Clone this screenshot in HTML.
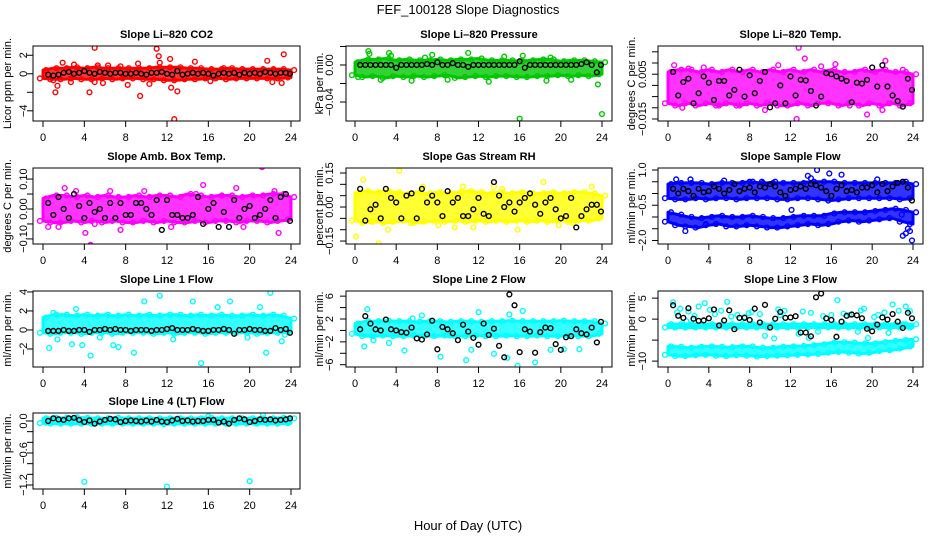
<!DOCTYPE html>
<html><head><meta charset="utf-8">
<style>
html,body{margin:0;padding:0;background:#fff;}
svg{display:block;font-family:"Liberation Sans",Arial,sans-serif;}
</style></head>
<body>
<svg id="chart" width="936" height="540" viewBox="0 0 936 540" xmlns="http://www.w3.org/2000/svg">
<rect x="0" y="0" width="936" height="540" fill="#fff"/>
<text x="468" y="14" text-anchor="middle" font-size="13">FEF_100128  Slope Diagnostics</text>
<text x="468" y="530" text-anchor="middle" font-size="13">Hour of Day (UTC)</text>
</svg>
<script>
const xTicks = [0,4,8,12,16,20,24];
const blkHours = [0.5,1,1.5,2,2.5,3,3.5,4,4.5,5,5.5,6,6.5,7,7.5,8,8.5,9,9.5,10,10.5,11,11.5,12,12.5,13,13.5,14,14.5,15,15.5,16,16.5,17,17.5,18,18.5,19,19.5,20,20.5,21,21.5,22,22.5,23,23.5,23.9];
const bandHours = [0,1,2,3,4,5,6,7,8,9,10,11,12,13,14,15,16,17,18,19,20,21,22,23,24];

// Panel 1: CO2
const p1Lo = [-0.5,-0.6,-0.6,-0.5,-0.6,-0.6,-0.5,-0.6,-0.5,-0.5,-0.6,-0.6,-0.7,-0.7,-0.6,-0.6,-0.5,-0.5,-0.6,-0.5,-0.5,-0.5,-0.5,-0.5,-0.4];
const p1Hi = [0.4,0.6,0.6,0.7,0.6,0.7,0.6,0.6,0.6,0.6,0.6,0.7,0.7,0.7,0.6,0.6,0.5,0.5,0.6,0.5,0.5,0.5,0.5,0.5,0.4];
const p1OutX = [5,11,11.2,12.3,14.7,21.7,23.3,1.2,1.4,4.5,9.4,12.7,12.4,13,8.2,10.3,16.2,22.2,23.1,1,2.7,5.3,6.3,9.2,11.3,1.9,3,7.5,17.5,5,5.8];
const p1OutY = [2.8,2.7,1.9,1.6,1.3,1.4,2.1,-2,-1.3,-2,-2.4,-4.9,-1.5,-1.9,-1.2,-1.1,-0.8,-0.9,-1,-0.7,-0.9,0.9,0.9,1.1,1.2,1.2,1.0,0.8,0.6,-0.9,-1];
const p1Blk = [-0.1,-0.2,-0.1,0.1,0.2,0.0,0.1,0.3,0.1,0.0,0.2,0.1,0.0,0.1,0.1,0.0,0.0,0.1,0.0,-0.1,0.1,0.1,0.2,0.0,-0.1,0.3,-0.1,0.0,0.1,0.0,0.1,0.0,-0.2,0.0,0.1,0.0,0.1,-0.1,0.1,0.0,0.1,0.0,0.2,0.1,0.0,0.1,0.1,0.0];

// Panel 2: Pressure
const p2Lo = [-0.011,-0.013,-0.012,-0.014,-0.012,-0.013,-0.012,-0.013,-0.012,-0.011,-0.014,-0.013,-0.012,-0.013,-0.012,-0.012,-0.013,-0.013,-0.012,-0.012,-0.011,-0.012,-0.011,-0.012,-0.010];
const p2Hi = [0.003,0.006,0.006,0.007,0.005,0.006,0.005,0.005,0.006,0.005,0.006,0.006,0.007,0.005,0.005,0.005,0.004,0.005,0.006,0.006,0.004,0.005,0.005,0.004,0.003];
const p2OutX = [1.3,1.4,3.3,3.5,7.5,11,16.3,0.3,23.6,16,24,2.5,5.5,9,13,18.6,21,6.8,14.5,19];
const p2OutY = [0.015,0.012,0.013,0.010,0.011,0.013,0.010,-0.013,-0.021,-0.058,-0.053,-0.016,-0.017,-0.016,-0.018,-0.017,-0.016,0.008,0.009,0.008];
const p2Blk = [0,0,0,0,0,0,0,-0.003,0,0,0,0,0,0.001,0,0.003,0,0,0.002,0,0,-0.002,0,0,0,0,0,0,0,0,0,0.004,-0.003,0,0,0,0,0,0,0,0,0,0,0.001,0.003,0,-0.008,0];

// Panel 3: Li-820 Temp
const p3Lo = [-0.008,-0.009,-0.008,-0.009,-0.008,-0.009,-0.008,-0.009,-0.008,-0.009,-0.008,-0.009,-0.009,-0.008,-0.009,-0.008,-0.008,-0.009,-0.008,-0.009,-0.008,-0.009,-0.008,-0.009,-0.008];
const p3Hi = [0.006,0.007,0.007,0.006,0.007,0.006,0.007,0.006,0.007,0.006,0.007,0.006,0.007,0.006,0.007,0.006,0.007,0.006,0.006,0.007,0.006,0.007,0.006,0.006,0.005];
const p3OutX = [12.8,13.4,21.3,0.6,10.8,12.6,19.5,9.5,1.4,21,3.5,7,15,17.8,5,2,16.4,23];
const p3OutY = [0.0168,0.012,0.011,0.009,0.009,-0.015,-0.013,-0.011,-0.010,-0.011,0.008,-0.009,0.0085,-0.009,-0.009,0.0075,0.0095,0.007];
const p3Blk = [0.006,-0.0045,0.0015,0.003,-0.008,-0.0035,0.004,0.0012,-0.0065,0.002,0.002,-0.0045,-0.002,0.007,-0.005,0.0045,-0.0035,0.002,0.006,-0.0098,-0.008,0.0,-0.008,0.004,-0.0045,0.0025,0.0022,-0.0025,-0.009,-0.005,0.0055,0.005,0.004,0.003,0.002,-0.0075,0.0012,0.0008,0.0025,0.008,-0.0005,0.009,-0.0005,-0.0045,-0.007,-0.0095,0.003,-0.002];

// Panel 4: Amb Box Temp
const p4Lo = [-0.04,-0.045,-0.045,-0.04,-0.045,-0.04,-0.045,-0.04,-0.045,-0.045,-0.04,-0.045,-0.04,-0.045,-0.045,-0.04,-0.045,-0.04,-0.04,-0.045,-0.04,-0.04,-0.045,-0.04,-0.035];
const p4Hi = [0.035,0.045,0.045,0.04,0.045,0.04,0.045,0.04,0.04,0.045,0.04,0.045,0.045,0.04,0.05,0.045,0.04,0.045,0.045,0.04,0.045,0.045,0.05,0.05,0.04];
const p4OutX = [21.2,22.8,4.6,4.1,5,0.5,1.5,12.4,7.5,19.4,2.1,18.7,15.5,9.8,3.2,14.8,6.5,22.4];
const p4OutY = [0.14,-0.08,-0.12,-0.08,-0.05,-0.06,-0.06,-0.06,-0.07,-0.06,0.07,0.07,0.08,0.06,0.06,0.05,0.06,0.06];
const p4Blk = [0.02,-0.02,0.04,0.0,-0.03,0.05,0.01,-0.03,0.02,-0.01,0.0,-0.03,0.02,-0.03,0.02,-0.02,-0.02,0.02,0.02,0.0,-0.02,0.03,-0.07,0.03,-0.02,-0.02,-0.03,-0.03,-0.02,0.04,-0.05,0.0,0.02,-0.06,-0.01,-0.06,0.03,-0.03,0.0,0.01,-0.03,-0.02,0.0,0.03,-0.03,0.04,0.05,-0.04];

// Panel 5: Gas Stream RH
const p5Lo = [-0.06,-0.07,-0.065,-0.07,-0.065,-0.06,-0.07,-0.065,-0.06,-0.065,-0.06,-0.065,-0.06,-0.065,-0.06,-0.065,-0.06,-0.065,-0.06,-0.065,-0.06,-0.065,-0.06,-0.06,-0.05];
const p5Hi = [0.06,0.07,0.065,0.07,0.065,0.06,0.065,0.06,0.065,0.06,0.065,0.07,0.065,0.06,0.065,0.06,0.065,0.06,0.06,0.065,0.06,0.065,0.065,0.06,0.05];
const p5OutX = [0.1,0.8,2.3,4.3,3.2,6.6,8.1,10.5,11.5,15.8,13.5,18.3,19.8,23,5.4,14.3,21.2,9.7];
const p5OutY = [-0.13,0.12,-0.16,0.16,-0.10,0.09,-0.08,0.09,-0.09,-0.10,0.09,0.11,-0.08,0.09,-0.07,0.08,-0.07,-0.09];
const p5Blk = [0.08,-0.06,-0.01,0.01,-0.05,0.08,0.04,0.02,-0.05,0.05,0.06,-0.05,0.08,0.02,0.05,0.02,-0.04,0.07,0.02,0.04,-0.04,-0.04,-0.01,0.04,-0.03,-0.04,0.11,0.05,0.00,0.02,-0.02,0.02,0.04,0.06,0.01,-0.03,0.02,0.04,-0.01,-0.05,-0.04,0.04,-0.09,-0.04,-0.01,0.01,0.01,-0.02];

// Panel 6: Sample Flow (two bands)
const p6Lo = [-0.2,-0.25,-0.25,-0.2,-0.25,-0.2,-0.2,-0.25,-0.2,-0.2,-0.2,-0.25,-0.25,-0.2,-0.2,-0.25,-0.3,-0.25,-0.2,-0.2,-0.2,-0.2,-0.2,-0.25,-0.2];
const p6Hi = [0.4,0.45,0.45,0.45,0.4,0.45,0.45,0.45,0.5,0.45,0.45,0.45,0.45,0.45,0.5,0.5,0.5,0.45,0.45,0.45,0.45,0.45,0.45,0.5,0.4];
const p6Lo2 = [-1.2,-1.35,-1.4,-1.45,-1.35,-1.3,-1.4,-1.4,-1.35,-1.4,-1.45,-1.45,-1.4,-1.35,-1.3,-1.35,-1.3,-1.2,-1.15,-1.2,-1.15,-1.1,-1.05,-1.2,-1.3];
const p6Hi2 = [-0.8,-0.9,-1.0,-1.05,-1.0,-0.95,-1.0,-1.0,-0.95,-1.0,-1.05,-1.05,-1.0,-0.95,-0.95,-0.95,-0.85,-0.8,-0.8,-0.8,-0.75,-0.7,-0.65,-0.7,-0.8];
const p6OutX = [0.8,1.7,3.7,5.5,8,9.2,13.7,14,14.6,15.8,17,20.5,23,23.3,23.5,23.7,23.9,2.2,10.5,12.1,22.9];
const p6OutY = [0.6,-1.6,-1.3,0.55,0.5,0.5,0.75,0.65,1.0,0.85,0.8,0.6,-1.8,-1.7,-1.5,-1.6,-2.0,0.6,0.5,-0.7,-0.9];
const p6Blk = [0.2,0.0,0.2,0.1,-0.1,0.2,0.05,0.1,0.3,0.2,0.0,0.15,0.4,0.1,0.2,0.25,0.05,0.3,0.25,0.4,0.3,0.05,-0.1,0.15,0.2,0.3,0.2,0.4,0.35,0.25,0.1,-0.1,0.2,0.35,0.1,0.15,0.05,0.25,0.25,0.35,0.05,0.4,0.1,0.3,0.45,0.5,0.25,-0.3];

// Panel 7: Line 1 Flow
const p7Lo = [-0.3,-0.4,-0.3,-0.3,-0.4,-0.3,-0.3,-0.4,-0.3,-0.3,-0.3,-0.4,-0.3,-0.4,-0.3,-0.3,-0.4,-0.3,-0.3,-0.3,-0.3,-0.4,-0.3,-0.3,-0.2];
const p7Hi = [1.3,1.6,1.6,1.5,1.6,1.5,1.6,1.5,1.6,1.5,1.6,1.5,1.6,1.6,1.5,1.6,1.5,1.6,1.5,1.5,1.6,1.5,1.6,1.5,1.2];
const p7OutX = [0.6,1.4,2.8,3.8,4.6,5.5,6.8,8.8,9.8,11.3,12.6,14.5,15.3,18.1,19.8,21,21.6,23.1,23.4,1,22,3.2,7.3,16.9];
const p7OutY = [-1.9,-1.0,-1.5,-1.6,-2.7,-0.8,-1.6,-2.4,3.0,3.6,-1.0,3.0,-3.5,3.0,-0.8,2.4,-2.4,-1.2,-0.5,1.8,3.9,2.2,-1.8,2.4];
const p7Blk = [-0.1,-0.1,-0.1,0,-0.1,-0.1,0,0,-0.2,0,0,0.1,0,0.1,0,0,-0.1,0,0,0,-0.1,0,0,0.1,0.2,0,0,0,0.1,0,-0.1,-0.1,0,0,0.1,0,-0.4,0,0,0.1,0,0,-0.1,-0.1,0.2,0,0.1,-0.3];

// Panel 8: Line 2 Flow
const p8Lo = [-0.6,-1.0,-1.0,-0.9,-1.0,-1.0,-0.9,-1.0,-1.0,-0.9,-1.0,-1.0,-0.9,-1.0,-1.0,-0.9,-1.0,-1.0,-0.9,-1.0,-1.0,-0.9,-1.0,-1.0,-0.6];
const p8Hi = [1.2,1.6,1.6,1.7,1.6,1.6,1.5,1.6,1.6,1.5,1.6,1.6,1.5,1.6,1.6,1.7,1.6,1.6,1.6,1.6,1.7,1.6,1.6,1.6,1.2];
const p8OutX = [0.9,1.2,3.3,4.8,5.6,8.3,9.2,10.8,11.3,14.8,16.3,15.8,17.5,19,20.3,21.8,1.8,6.5,12,13.5,15];
const p8OutY = [-2.8,3.7,-2.2,-3.5,2.1,-4.6,-0.9,-5.2,-3.4,-4.8,3.4,-6.2,-5.6,-3.4,-3.3,-3.3,-1.7,2.6,3.2,-4.1,2.8];
const p8Blk = [0.2,2.5,1.2,0.2,0,1.9,0.2,0,-0.3,-0.4,0.5,-1.4,-1.6,-0.7,1.7,-3.3,0.6,0.2,-0.5,-1.7,1.0,-0.2,-1.3,-2.5,1.2,-0.8,0.3,-2.7,-4.7,6.3,4.4,-3.8,0.2,-0.2,-3.9,-0.3,0.5,0.4,-2.4,-3.4,-1.2,-1.0,0.2,-0.5,-0.7,0.5,-2.1,1.5];

// Panel 9: Line 3 Flow (line band + lower band)
const p9Lo = [-2.0,-2.0,-2.0,-2.0,-2.0,-2.0,-2.0,-2.0,-2.0,-2.0,-2.0,-2.0,-2.0,-2.0,-2.0,-2.0,-2.0,-2.0,-2.0,-2.0,-2.0,-2.0,-2.0,-2.0,-2.0];
const p9Hi = [-1.2,-1.2,-1.2,-1.2,-1.2,-1.2,-1.2,-1.2,-1.2,-1.2,-1.2,-1.2,-1.2,-1.2,-1.2,-1.2,-1.2,-1.2,-1.2,-1.2,-1.2,-1.2,-1.2,-1.2,-1.2];
const p9Lo2 = [-8.5,-8.8,-8.8,-8.6,-8.5,-8.7,-8.8,-8.6,-8.7,-8.9,-8.8,-8.7,-8.6,-8.5,-8.4,-8.3,-8.0,-7.8,-8.0,-8.2,-8.0,-7.6,-7.4,-7.0,-6.5];
const p9Hi2 = [-6.5,-6.6,-6.8,-6.6,-6.5,-6.6,-6.7,-6.5,-6.5,-6.8,-6.8,-6.6,-6.5,-6.4,-6.2,-6.0,-5.6,-5.5,-5.6,-5.8,-5.8,-5.5,-5.2,-5.0,-4.8];
const p9OutX = [0.5,1.2,2,3.6,4.6,5.2,6.8,7.5,8.2,9.5,10.4,11.4,12.8,13.8,14.7,16.6,17.8,18.6,19.6,20.6,21.6,22.6,23.3,1.8,3,5.8,9,10.8,14,16,19.2,22,23,0.9,2.6,4.1,6.2,7.9,11,13.2,15.2,17.2,18.9,20.2,21.2,23.7];
const p9OutY = [4.0,2.5,1.8,3.8,1.2,2.0,1.0,0.5,1.7,-4.0,-4.6,2.0,-3.5,-4.5,-3.0,4.5,1.0,-3.0,-4.5,1.0,-3.3,2.0,3.0,-0.5,3.0,4.1,1.2,2.3,1.5,1.0,2.5,3.5,-1.2,1.6,0.8,2.2,0.6,1.4,0.9,1.8,0.7,1.3,2.1,0.5,1.6,1.9];
const p9Blk = [3.3,0.8,0.3,2.6,0.1,-0.4,-0.3,0.2,2.3,-1.5,-0.3,2.1,-2.4,0.3,0.3,-0.2,2.5,-0.8,3.4,-2.0,0.1,1.7,0.3,0.4,0.7,-3.2,-3.2,-4.1,5.2,6.1,0.2,-0.2,-4.2,-0.6,0.8,1.1,0.9,0.2,-2.3,-2.9,-1.3,0.4,-0.1,1.2,-0.6,-2.1,1.5,0.2];

// Panel 10: Line 4 (LT) Flow
const p10Lo = [-0.04,-0.05,-0.05,-0.05,-0.05,-0.05,-0.05,-0.05,-0.05,-0.05,-0.05,-0.05,-0.06,-0.05,-0.05,-0.05,-0.05,-0.05,-0.05,-0.05,-0.05,-0.05,-0.05,-0.05,-0.04];
const p10Hi = [0.05,0.06,0.06,0.07,0.06,0.05,0.05,0.06,0.05,0.05,0.05,0.05,0.05,0.05,0.05,0.05,0.06,0.05,0.05,0.05,0.05,0.05,0.05,0.06,0.05];
const p10OutX = [4,12,20,21.3,16,0.3];
const p10OutY = [-1.14,-1.23,-1.13,0.11,0.09,-0.03];
const p10Blk = [0.0,0.05,0.03,0.02,0.05,0.06,0.02,-0.02,0.01,-0.05,-0.01,0.02,0.04,0.03,-0.02,0.0,0.01,0.0,-0.01,0.01,-0.01,0.02,-0.01,-0.02,0.01,0.04,0.0,0.01,-0.01,0.0,0.0,0.02,0.02,-0.03,-0.01,-0.05,0.02,0.05,0.03,-0.02,0.0,0.03,0.02,0.03,0.01,0.02,0.03,0.05];

// layout (not data)
const colL = [33,346,658], colR = [300,612,923], colX0 = [43,355,668], colX24 = [291,602,913];
const rowT = [46,168,291,413], rowB = [121,244,367,489];
const tickLabX = [24,330,643], yTitleX = [8,320,632];

const panels = [
 {key:'co2', title:'Slope Li\u2013820 CO2', yl:'Licor ppm per min.', color:'#ff0000', c:0, r:0, ymin:-5.1, ymax:3.0, ticks:[2,0,-2,-4], labels:['2','0',null,'\u22124'], bands:[[p1Lo,p1Hi]], ox:p1OutX, oy:p1OutY, blk:p1Blk},
 {key:'pressure', title:'Slope Li\u2013820 Pressure', yl:'kPa per min.', color:'#00c800', c:1, r:0, ymin:-0.0605, ymax:0.0205, ticks:[0.02,0,-0.02,-0.04], labels:[null,'0.00',null,'\u22120.04'], bands:[[p2Lo,p2Hi]], ox:p2OutX, oy:p2OutY, blk:p2Blk},
 {key:'li820-temp', title:'Slope Li\u2013820 Temp.', yl:'degrees C per min.', color:'#ff00ff', c:2, r:0, ymin:-0.0159, ymax:0.0176, ticks:[0.015,0.01,0.005,0,-0.005,-0.01,-0.015], labels:[null,null,'0.005',null,null,null,'\u22120.015'], bands:[[p3Lo,p3Hi]], ox:p3OutX, oy:p3OutY, blk:p3Blk},
 {key:'box-temp', title:'Slope Amb. Box Temp.', yl:'degrees C per min.', color:'#ff00ff', c:0, r:1, ymin:-0.117, ymax:0.137, ticks:[0.1,0.05,0,-0.05,-0.1], labels:['0.10',null,'0.00',null,'\u22120.10'], bands:[[p4Lo,p4Hi]], ox:p4OutX, oy:p4OutY, blk:p4Blk},
 {key:'gas-rh', title:'Slope Gas Stream RH', yl:'percent per min.', color:'#ffff00', c:1, r:1, ymin:-0.163, ymax:0.172, ticks:[0.15,0.1,0.05,0,-0.05,-0.1,-0.15], labels:['0.15',null,null,'0.00',null,null,'\u22120.15'], bands:[[p5Lo,p5Hi]], ox:p5OutX, oy:p5OutY, blk:p5Blk},
 {key:'sample-flow', title:'Slope Sample Flow', yl:'ml/min per min.', color:'#0000ff', c:2, r:1, ymin:-2.15, ymax:1.085, ticks:[1,0.5,0,-0.5,-1,-1.5,-2], labels:['1.0',null,null,'\u22120.5',null,null,'\u22122.0'], bands:[[p6Lo,p6Hi],[p6Lo2,p6Hi2]], ox:p6OutX, oy:p6OutY, blk:p6Blk},
 {key:'line1-flow', title:'Slope Line 1 Flow', yl:'ml/min per min.', color:'#00ffff', c:0, r:2, ymin:-3.9, ymax:4.1, ticks:[4,2,0,-2], labels:['4','2','0','\u22122'], bands:[[p7Lo,p7Hi]], ox:p7OutX, oy:p7OutY, blk:p7Blk},
 {key:'line2-flow', title:'Slope Line 2 Flow', yl:'ml/min per min.', color:'#00ffff', c:1, r:2, ymin:-6.4, ymax:6.9, ticks:[6,4,2,0,-2,-4,-6], labels:['6',null,'2',null,'\u22122',null,'\u22126'], bands:[[p8Lo,p8Hi]], ox:p8OutX, oy:p8OutY, blk:p8Blk},
 {key:'line3-flow', title:'Slope Line 3 Flow', yl:'ml/min per min.', color:'#00ffff', c:2, r:2, ymin:-11.4, ymax:6.7, ticks:[5,0,-5,-10], labels:['5','0',null,'\u221210'], bands:[[p9Lo,p9Hi],[p9Lo2,p9Hi2]], ox:p9OutX, oy:p9OutY, blk:p9Blk},
 {key:'line4-flow', title:'Slope Line 4 (LT) Flow', yl:'ml/min per min.', color:'#00ffff', c:0, r:3, ymin:-1.275, ymax:0.15, ticks:[0,-0.2,-0.4,-0.6,-0.8,-1.0,-1.2], labels:['0.0',null,null,'\u22120.6',null,null,'\u22121.2'], bands:[[p10Lo,p10Hi]], ox:p10OutX, oy:p10OutY, blk:p10Blk}
];

const NS = 'http://www.w3.org/2000/svg';
const svg = document.getElementById('chart');
function mk(tag, attrs, parent){
  const e = document.createElementNS(NS, tag);
  for (const k in attrs) e.setAttribute(k, attrs[k]);
  (parent||svg).appendChild(e);
  return e;
}

panels.forEach(p => {
  const L = colL[p.c], R = colR[p.c], T = rowT[p.r], B = rowB[p.r];
  const xs = h => colX0[p.c] + (colX24[p.c]-colX0[p.c]) * h / 24;
  const ys = v => B - (B-T) * (v - p.ymin) / (p.ymax - p.ymin);
  const g = mk('g', {});
  
  

  const t = mk('text', {x:(L+R)/2, y:T-8, 'text-anchor':'middle', 'font-size':'11', 'font-weight':'bold'}, g);
  t.textContent = p.title;
  
  

  const clipId = 'clip-' + p.key;
  const cp = mk('clipPath', {id:clipId}, g);
  mk('rect', {x:L, y:T, width:R-L, height:B-T}, cp);
  const plot = mk('g', {'clip-path':'url(#'+clipId+')'}, g);
  
  

  p.bands.forEach(([lo, hi]) => {
    let d = '';
    bandHours.forEach((h,i) => { d += (i?'L':'M') + xs(h).toFixed(1) + ',' + ys(hi[i]).toFixed(1); });
    for (let i = bandHours.length-1; i >= 0; i--) d += 'L' + xs(bandHours[i]).toFixed(1) + ',' + ys(lo[i]).toFixed(1);
    const band = mk('path', {d:d+'Z', fill:p.color, 'fill-opacity':'0.8', stroke:p.color, 'stroke-width':'3', 'stroke-linejoin':'round'}, plot);
    
    
    bandHours.forEach((h,i) => {
      const c1 = mk('circle', {cx:xs(h+0.3), cy:ys(hi[i]), r:2.4, fill:'none', stroke:p.color, 'stroke-width':1.4}, plot);
      
      
      const c2 = mk('circle', {cx:xs(h-0.3), cy:ys(lo[i]), r:2.4, fill:'none', stroke:p.color, 'stroke-width':1.4}, plot);
      
      
    });
  });
  p.ox.forEach((h,i) => {
    const c = mk('circle', {cx:xs(h), cy:ys(p.oy[i]), r:2.4, fill:'none', stroke:p.color, 'stroke-width':1.4}, plot);
    
    
  });
  p.blk.forEach((v,i) => {
    const c = mk('circle', {cx:xs(blkHours[i]), cy:ys(v), r:2.4, fill:'none', stroke:'#000', 'stroke-width':1.4}, plot);
    
    
  });

  const box = mk('rect', {x:L, y:T, width:R-L, height:B-T, fill:'none', stroke:'#000', 'stroke-width':1}, g);
  
  

  xTicks.forEach(h => {
    const ln = mk('line', {x1:xs(h), x2:xs(h), y1:B, y2:B+6, stroke:'#000'}, g);
    
    
    const tx = mk('text', {x:xs(h), y:B+20, 'text-anchor':'middle', 'font-size':'11'}, g);
    tx.textContent = String(h);
    
    
  });
  p.ticks.forEach((v,i) => {
    const ln = mk('line', {x1:L-6, x2:L, y1:ys(v), y2:ys(v), stroke:'#000'}, g);
    
    
    if (p.labels[i]) {
      const lx = tickLabX[p.c], ly = ys(v);
      const tx = mk('text', {x:lx, y:ly, 'text-anchor':'middle', 'dominant-baseline':'central', 'font-size':'11', transform:'rotate(-90 '+lx+' '+ly+')'}, g);
      tx.textContent = p.labels[i];
      
      
    }
  });
  const yx = yTitleX[p.c], yy = (T+B)/2;
  const yt = mk('text', {x:yx, y:yy, 'text-anchor':'middle', 'dominant-baseline':'central', 'font-size':'11', transform:'rotate(-90 '+yx+' '+yy+')'}, g);
  yt.textContent = p.yl;
  
  
});
</script>
</body></html>
